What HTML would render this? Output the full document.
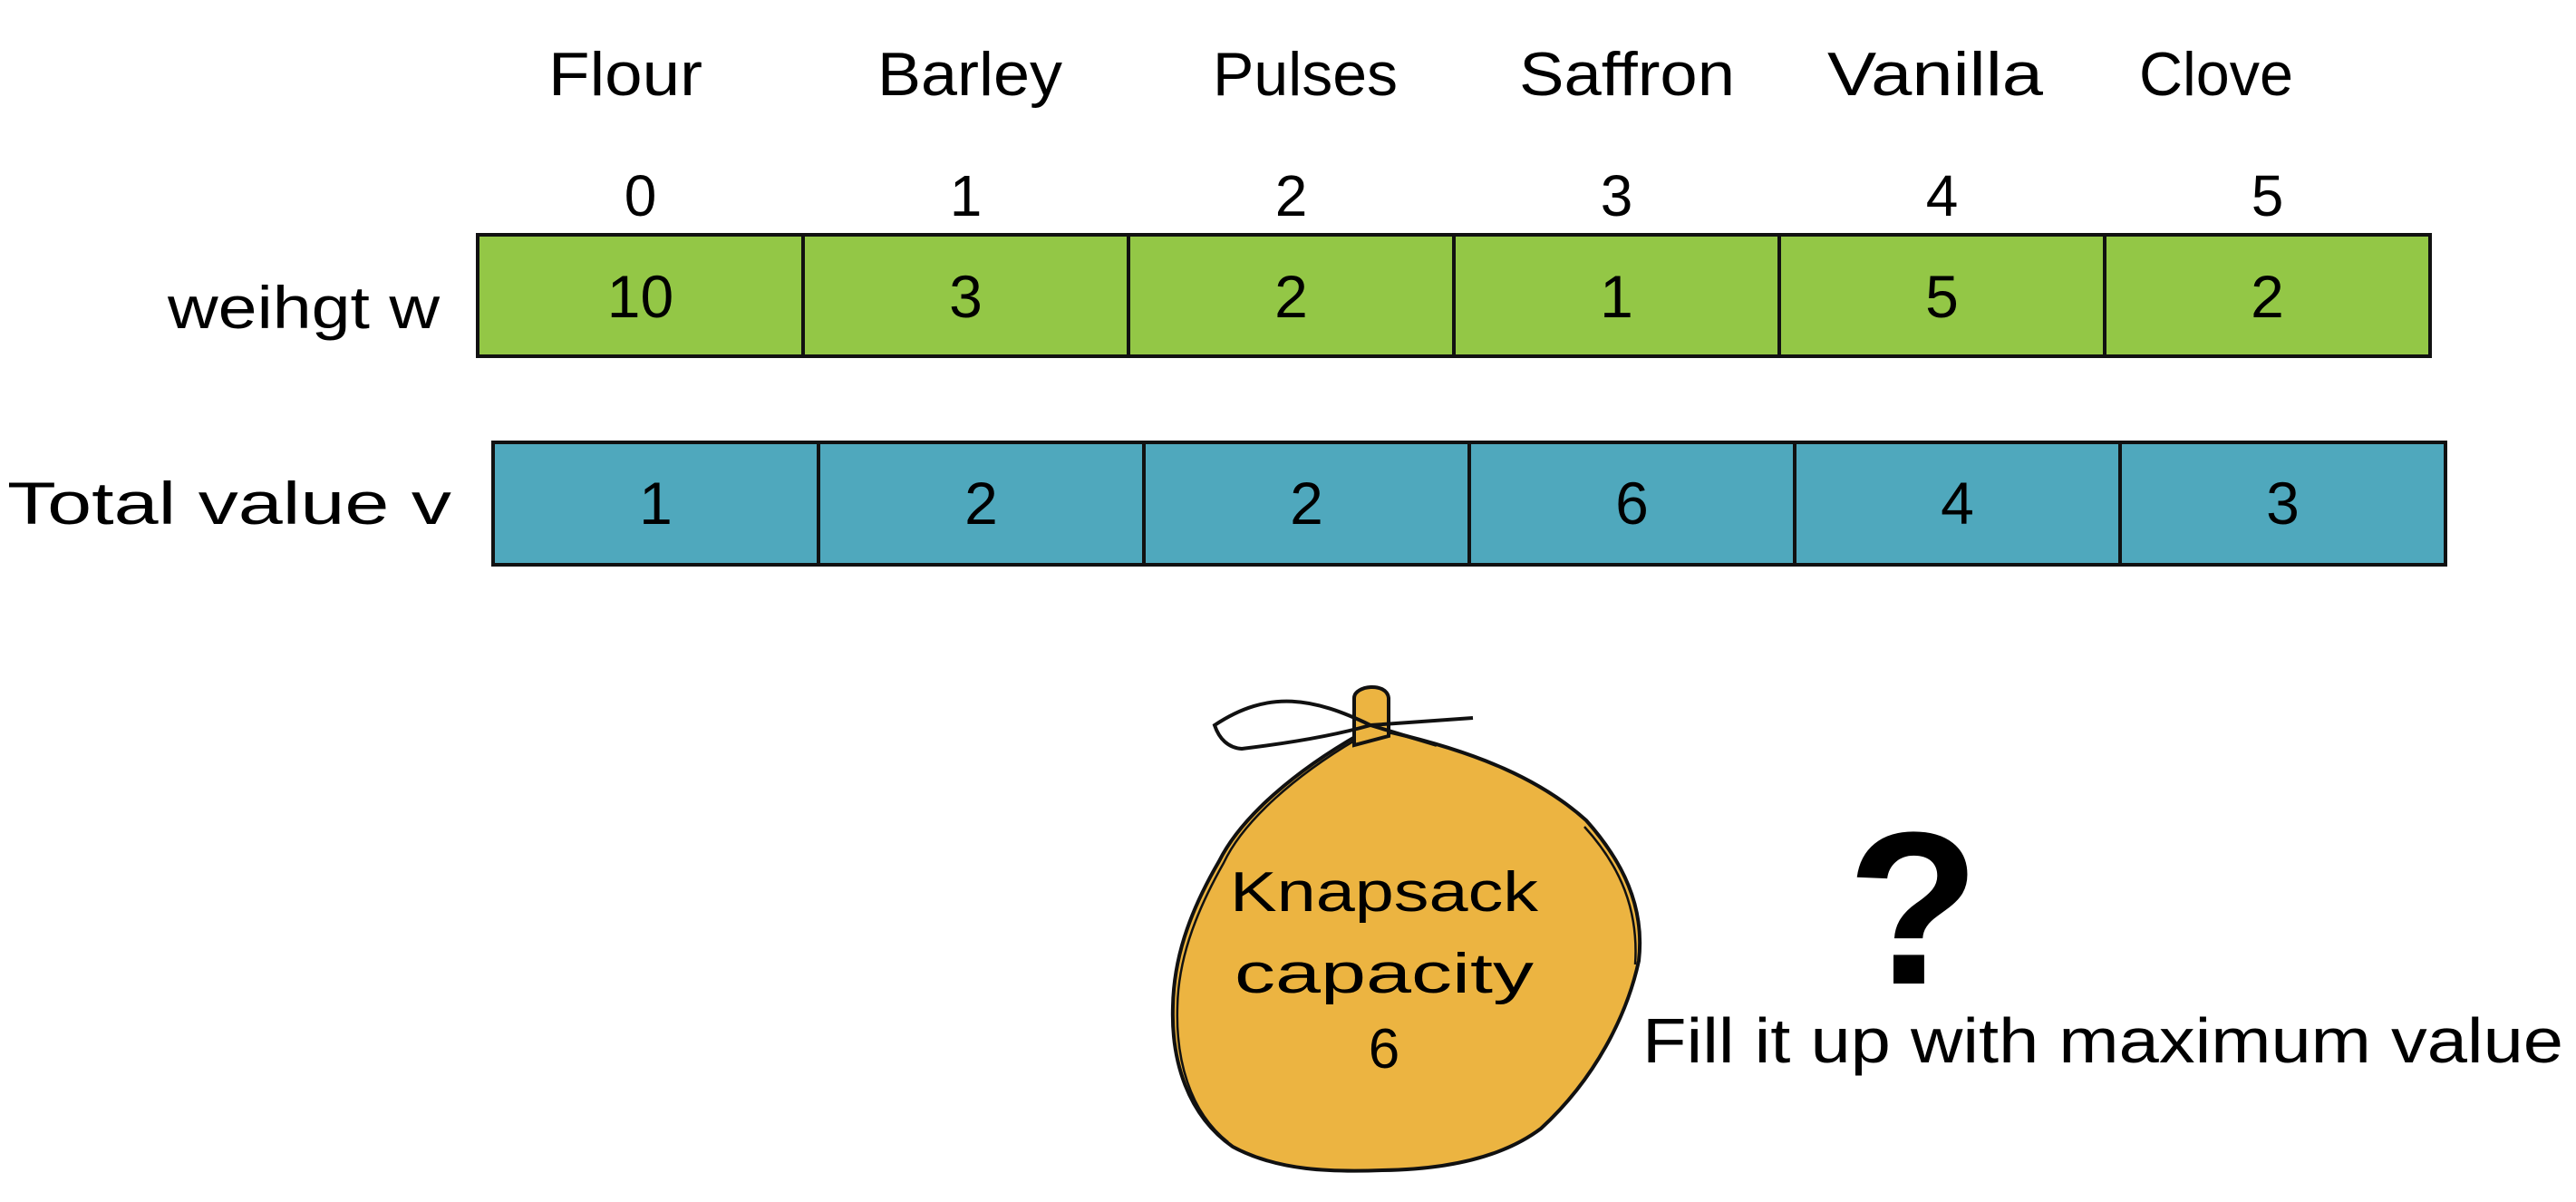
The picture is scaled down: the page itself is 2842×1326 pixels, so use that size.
<!DOCTYPE html>
<html><head><meta charset="utf-8"><style>
html,body{margin:0;padding:0;background:#fff;}
svg{display:block;}
text{font-family:"Liberation Sans",sans-serif;fill:#000;}
</style></head><body>
<svg id="chart" width="2842" height="1326" viewBox="0 0 2842 1326" xmlns="http://www.w3.org/2000/svg">
<g id="rows"></g>
<g>
<path d="M1500 810 C1430 850 1370 900 1345 950 C1310 1010 1295 1060 1294 1110 C1292 1170 1310 1230 1360 1265 C1410 1292 1470 1293 1525 1291 C1600 1290 1660 1275 1700 1245 C1760 1190 1795 1120 1808 1060 C1815 1000 1790 950 1750 905 C1700 860 1630 830 1535 808 Z" fill="#ecb441" stroke="#111" stroke-width="4"/>
<path d="M1496 816 C1430 855 1372 905 1350 952 C1316 1012 1300 1062 1299 1110 C1297 1168 1312 1226 1355 1260" fill="none" stroke="#111" stroke-width="2.5"/>
<path d="M1808 1060 C1812 1000 1792 952 1752 908" fill="none" stroke="#111" stroke-width="2.5" transform="translate(-4,4)"/>
<path d="M1494 822 L1494 770 C1494 756 1530 752 1532 770 L1532 812 Z" fill="#ecb441" stroke="#111" stroke-width="4"/>
<path d="M1512 800 C1450 770 1400 760 1340 800 C1345 815 1355 825 1370 826 C1420 820 1470 812 1512 800 L1625 792 M1512 800 L1585 822" fill="none" stroke="#111" stroke-width="4"/>
<text x="1527" y="1005" font-size="62" text-anchor="middle" textLength="340" lengthAdjust="spacingAndGlyphs">Knapsack</text>
<text x="1527" y="1095" font-size="62" text-anchor="middle" textLength="330" lengthAdjust="spacingAndGlyphs">capacity</text>
<text x="1527" y="1178" font-size="62" text-anchor="middle">6</text>
</g>
<text x="2111" y="1085" font-size="240" font-weight="bold" text-anchor="middle">?</text>
<text x="1812" y="1172" font-size="70" textLength="1016" lengthAdjust="spacingAndGlyphs">Fill it up with maximum value</text>
</svg>
<script>
const itemNames = ["Flour","Barley","Pulses","Saffron","Vanilla","Clove"];
const itemIndices = ["0","1","2","3","4","5"];
const weights = [10,3,2,1,5,2];
const values = [1,2,2,6,4,3];

const NS = "http://www.w3.org/2000/svg";
const g = document.getElementById("rows");
const greenX0 = 527, blueX0 = 544, cellW = 359;
const cx = (x0,i) => x0 + i*cellW;
const nameX = [690,1070,1440,1795,2135,2445];
function mk(tag, attrs, txt){
  const e = document.createElementNS(NS, tag);
  for (const k in attrs) e.setAttribute(k, attrs[k]);
  if (txt !== undefined) e.textContent = txt;
  g.appendChild(e); return e;
}
let t = mk("text",{x:335,y:362,"font-size":66,"text-anchor":"middle",textLength:300,lengthAdjust:"spacingAndGlyphs"},"weihgt w");


t = mk("text",{x:8,y:578,"font-size":66,textLength:490,lengthAdjust:"spacingAndGlyphs"},"Total value v");


itemNames.forEach((n,i)=>{
  const center = cx(greenX0,i)+cellW/2;
  const nm = mk("text",{x:nameX[i],y:105,"font-size":68,"text-anchor":"middle",textLength:n.length*34,lengthAdjust:"spacingAndGlyphs"},n);
  
  
  const ix = mk("text",{x:center,y:238,"font-size":64,"text-anchor":"middle"},itemIndices[i]);
  
  
  const r1 = mk("rect",{x:cx(greenX0,i),y:259,width:cellW,height:134,fill:"#93c746",stroke:"#111","stroke-width":4});
  
  
  const w = mk("text",{x:center,y:350,"font-size":66,"text-anchor":"middle"},String(weights[i]));
  
  
  const bc = cx(blueX0,i)+cellW/2;
  const r2 = mk("rect",{x:cx(blueX0,i),y:488,width:cellW,height:135,fill:"#4fa8bd",stroke:"#111","stroke-width":4});
  
  
  const v = mk("text",{x:bc,y:578,"font-size":66,"text-anchor":"middle"},String(values[i]));
  
  
});
</script>
</body></html>
